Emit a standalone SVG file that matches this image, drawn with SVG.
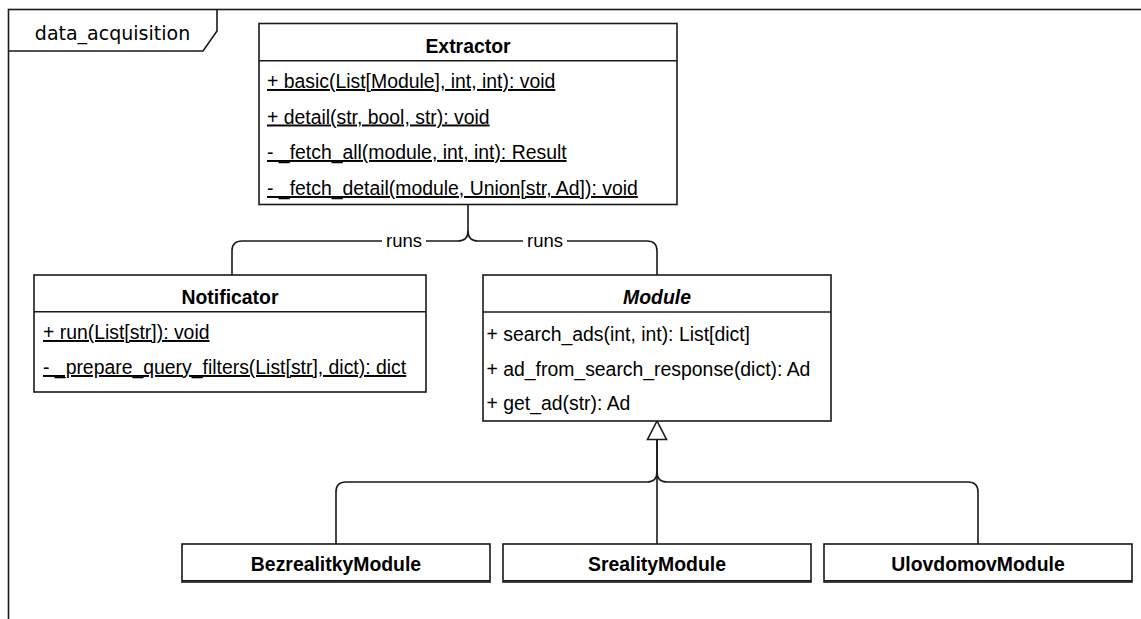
<svg xmlns="http://www.w3.org/2000/svg" width="1141" height="619" viewBox="0 0 1141 619">
<style>
.box{fill:#fff;stroke:#1a1a1a;stroke-width:1.6}
.ln{fill:none;stroke:#1a1a1a;stroke-width:1.6}
.t{font-family:"Liberation Sans",Arial,sans-serif;font-size:19.4px;fill:#000}
.b{font-weight:bold;text-anchor:middle}
.u{text-decoration:underline;text-decoration-skip-ink:none}
.lbl{font-family:"Liberation Sans",Arial,sans-serif;font-size:18.5px;fill:#000;text-anchor:middle}
.frm{font-family:"DejaVu Sans",Verdana,sans-serif;font-size:19px;fill:#000;text-anchor:middle}
</style>
<rect width="1141" height="619" fill="#fff"/>
<g id="frame">
<rect x="8.5" y="9.5" width="1200" height="700" class="ln"/>
<path d="M8.5,51 H203 L217,31 V9.5" class="ln"/>
<text x="112.5" y="40" class="frm">data_acquisition</text>
</g>
<g id="connectors">
<path d="M468,204.5 V231 Q468,241 458,241 H242 Q232,241 232,251 V275" class="ln"/>
<path d="M468,231 Q468,241 478,241 H647 Q657,241 657,251 V275" class="ln"/>
<rect x="382" y="230" width="44" height="22" fill="#fff"/>
<text x="404" y="247" class="lbl">runs</text>
<rect x="523" y="230" width="44" height="22" fill="#fff"/>
<text x="545" y="247" class="lbl">runs</text>
<path d="M336,544 V492 Q336,482 346,482 H647 Q657,482 657,472 V439.5" class="ln"/>
<path d="M978,544 V492 Q978,482 968,482 H667 Q657,482 657,472" class="ln"/>
<path d="M657,544 V439.5" class="ln"/>
<polygon points="657,421 647.5,439.5 666.5,439.5" class="box"/>
</g>
<g id="extractor">
<rect x="259" y="23.5" width="418" height="181" class="box"/>
<line x1="259" y1="60.7" x2="677" y2="60.7" class="ln"/>
<text x="468" y="53" class="t b">Extractor</text>
<text x="267" y="88" class="t u">+ basic(List[Module], int, int): void</text>
<text x="267" y="123.5" class="t u">+ detail(str, bool, str): void</text>
<text x="267" y="159" class="t u">- _fetch_all(module, int, int): Result</text>
<text x="267" y="195" class="t u">- _fetch_detail(module, Union[str, Ad]): void</text>
</g>
<g id="notificator">
<rect x="34" y="275" width="392" height="117" class="box"/>
<line x1="34" y1="311.7" x2="426" y2="311.7" class="ln"/>
<text x="230" y="304" class="t b">Notificator</text>
<text x="43" y="339" class="t u">+ run(List[str]): void</text>
<text x="43" y="374" class="t u">- _prepare_query_filters(List[str], dict): dict</text>
</g>
<g id="module">
<rect x="483" y="275" width="348" height="146" class="box"/>
<line x1="483" y1="312" x2="831" y2="312" class="ln"/>
<text x="657" y="303.5" class="t b" font-style="italic">Module</text>
<text x="486.5" y="340.5" class="t">+ search_ads(int, int): List[dict]</text>
<text x="486.5" y="375.5" class="t">+ ad_from_search_response(dict): Ad</text>
<text x="486.5" y="410" class="t">+ get_ad(str): Ad</text>
</g>
<g id="bezrealitky">
<rect x="182" y="544" width="308" height="38" class="box"/>
<line x1="182" y1="580.8" x2="490" y2="580.8" class="ln"/>
<text x="336" y="571" class="t b">BezrealitkyModule</text>
</g>
<g id="sreality">
<rect x="503" y="544" width="308" height="38" class="box"/>
<line x1="503" y1="580.8" x2="811" y2="580.8" class="ln"/>
<text x="657" y="571" class="t b">SrealityModule</text>
</g>
<g id="ulovdomov">
<rect x="824" y="544" width="308" height="38" class="box"/>
<line x1="824" y1="580.8" x2="1132" y2="580.8" class="ln"/>
<text x="978" y="571" class="t b">UlovdomovModule</text>
</g>
</svg>
